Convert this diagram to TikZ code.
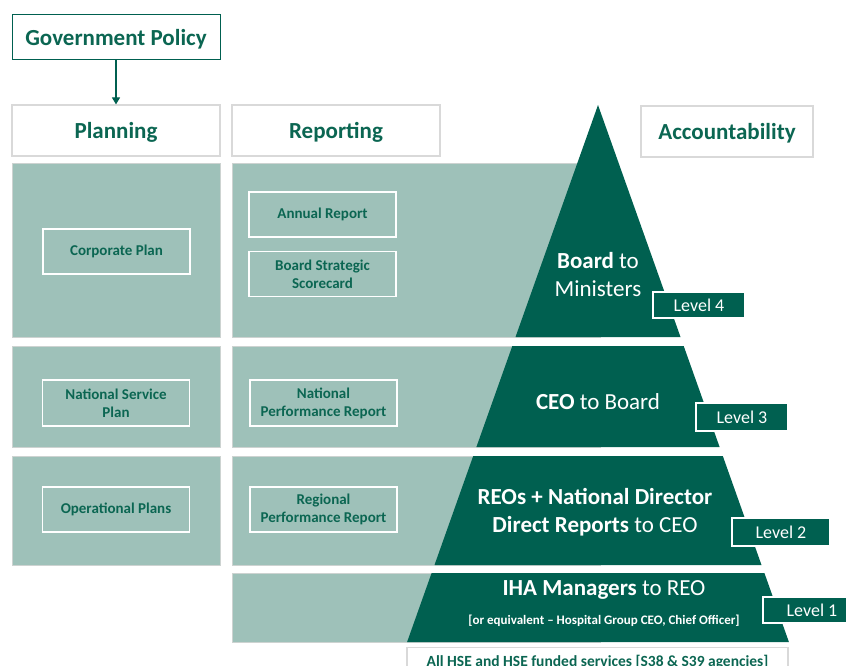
\documentclass[tikz,border=0pt]{standalone}
\usepackage{fontspec}
\setmainfont{Carlito}
\usetikzlibrary{arrows.meta}
\definecolor{dkgreen}{HTML}{006050}
\definecolor{txtgreen}{HTML}{0B6652}
\definecolor{ltteal}{HTML}{9EC1B9}
\definecolor{hdrline}{HTML}{D9D9D9}
\definecolor{panelline}{HTML}{CDD3D1}
\tikzset{
  hdrbox/.style={draw=hdrline, line width=1.2pt, fill=white, inner sep=0pt,
    text height=18pt, text depth=2pt,
    text=txtgreen, font=\fontsize{23}{26}\selectfont\bfseries},
  panel/.style={fill=ltteal, draw=panelline, line width=0.8pt},
  docbox/.style={draw=white, line width=1.3pt, inner sep=0pt, align=center,
    minimum width=147pt, minimum height=45pt, text=txtgreen,
    font=\fontsize{15}{18}\selectfont\bfseries},
  levelbox/.style={draw=white, line width=1.2pt, fill=dkgreen, inner sep=0pt,
    text=white, font=\fontsize{18}{20}\selectfont},
  tiertext/.style={text=white, align=center, inner sep=0pt,
    font=\fontsize{23}{28}\selectfont},
}
\begin{document}
\begin{tikzpicture}[x=1pt, y=-1pt]
\useasboundingbox (0,0) rectangle (846,666);
\clip (0,0) rectangle (846,666);

% column headers
\node[hdrbox, draw=dkgreen, line width=1pt, minimum width=208pt, minimum height=45pt]
  (gov) at (116,37.5) {Government Policy};
\node[hdrbox, minimum width=208pt, minimum height=51pt] (plan) at (116,130.5) {Planning};
\node[hdrbox, minimum width=208pt, minimum height=51pt] (rep) at (336,130.5) {Reporting};
\node[hdrbox, minimum width=172pt, minimum height=51pt] (acc) at (727,131.5) {Accountability};
\draw[dkgreen, line width=1.2pt, -{Triangle[length=7pt, width=8pt]}] (gov) -- (plan);

% planning column panels
\fill[panel] (12,163) rectangle (220,337);
\fill[panel] (12,346) rectangle (220,447);
\fill[panel] (12,456) rectangle (220,565);

% reporting column panels (run on under the pyramid)
\fill[panel] (232,163) rectangle (600,337);
\fill[panel] (232,346) rectangle (600,447);
\fill[panel] (232,456) rectangle (600,565);
\fill[panel] (232,573) rectangle (600,642);

% accountability pyramid, four tiers
\fill[dkgreen] (598,105) -- (680.5,337) -- (515.5,337) -- cycle;
\fill[dkgreen] (512.3,346) -- (683.7,346) -- (719.6,447) -- (476.4,447) -- cycle;
\fill[dkgreen] (473.2,456) -- (722.8,456) -- (761.5,565) -- (434.5,565) -- cycle;
\fill[dkgreen] (431.6,573) -- (764.4,573) -- (788.9,642) -- (407.1,642) -- cycle;

% planning documents
\node[docbox] (corp) at (116.5,251.5) {Corporate Plan};
\node[docbox, minimum height=46pt] (nsp) at (116,403) {National Service\\Plan};
\node[docbox] (ops) at (116,509.5) {Operational Plans};

% reporting documents
\node[docbox] (annual) at (322.5,214.5) {Annual Report};
\node[docbox] (bsc) at (322.5,274) {Board Strategic\\Scorecard};
\node[docbox, minimum height=46pt] (npr) at (323.5,403) {National\\Performance Report};
\node[docbox] (rpr) at (323.5,509.5) {Regional\\Performance Report};

% tier labels
\node[tiertext] (t4) at (598,275) {\textbf{Board} to\\Ministers};
\node[tiertext] (t3) at (598,402) {\textbf{CEO} to Board};
\node[tiertext] (t2) at (595,512) {\textbf{REOs + National Director}\\\textbf{Direct Reports} to CEO};
\node[tiertext] (t1) at (604,590) {\textbf{IHA Managers} to REO};
\node[text=white, inner sep=0pt, font=\fontsize{13}{15}\selectfont\bfseries]
  (t1b) at (604,621) {[or equivalent – Hospital Group CEO, Chief Officer]};

% level badges
\node[levelbox, minimum width=92pt, minimum height=26pt] (l4) at (699,305) {Level 4};
\node[levelbox, minimum width=92pt, minimum height=28pt] (l3) at (742,417) {Level 3};
\node[levelbox, minimum width=98pt, minimum height=28pt] (l2) at (781,532) {Level 2};
\node[levelbox, minimum width=98pt, minimum height=26pt] (l1) at (812,610) {Level 1};

% base of the pyramid
\node[draw=hdrline, line width=1.2pt, fill=white, inner sep=0pt, minimum width=381pt,
  minimum height=30pt, anchor=north, text=txtgreen, font=\fontsize{15.5}{17}\selectfont\bfseries,
  text depth=4pt] (base) at (597.5,647) {All HSE and HSE funded services [S38 \& S39 agencies]};
\end{tikzpicture}
\end{document}
